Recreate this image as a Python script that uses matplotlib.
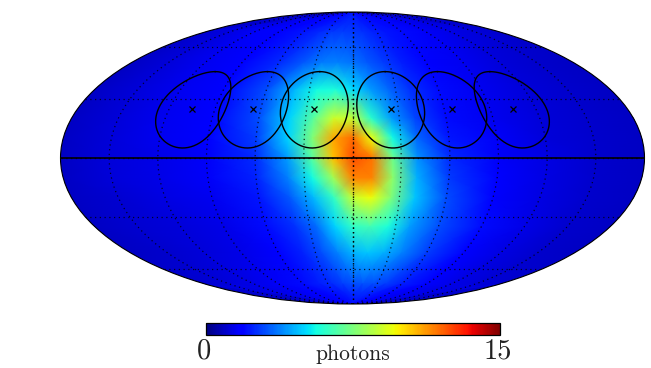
import numpy as np
import matplotlib
matplotlib.use('Agg')
import matplotlib.pyplot as plt
from matplotlib.transforms import ScaledTranslation

# sky map nodes (degrees), finer around the hot spot
lon_nodes = [-180, -150, -120, -90, -60, -40, -25, -12, 0, 12, 25, 40, 60, 90, 120, 150, 180]
lat_nodes = [90, 70, 50, 35, 20, 10, 0, -10, -20, -35, -50, -70, -90]

# photons per node
photons = [
    [1.9, 1.9, 1.9, 2.0, 2.0, 2.1, 2.1, 2.2, 2.2, 2.2, 2.1, 2.1, 2.0, 2.0, 1.9, 1.9, 1.9],
    [1.1, 1.3, 1.6, 1.8, 2.2, 2.5, 2.7, 2.8, 2.7, 2.6, 2.4, 2.2, 2.0, 1.6, 1.4, 1.2, 1.0],
    [0.9, 1.2, 1.5, 1.8, 2.5, 3.2, 3.7, 3.8, 3.6, 3.2, 2.8, 2.3, 1.9, 1.5, 1.2, 1.0, 0.9],
    [0.9, 1.2, 1.5, 1.9, 3.0, 4.6, 5.6, 5.8, 5.1, 4.2, 3.4, 2.6, 2.0, 1.5, 1.2, 1.0, 0.9],
    [0.9, 1.2, 1.5, 1.8, 3.0, 5.0, 6.9, 9.0, 8.8, 6.0, 4.2, 2.9, 2.0, 1.5, 1.2, 1.0, 0.9],
    [0.9, 1.2, 1.5, 1.7, 2.8, 5.0, 7.6, 11.0, 12.0, 9.5, 5.6, 3.4, 2.2, 1.6, 1.2, 1.0, 0.9],
    [0.9, 1.2, 1.4, 1.6, 2.5, 4.2, 6.8, 10.6, 12.4, 11.8, 7.2, 4.0, 2.5, 1.6, 1.3, 1.0, 0.9],
    [0.9, 1.2, 1.4, 1.6, 2.4, 3.8, 5.6, 8.2, 11.6, 11.6, 7.8, 4.5, 2.7, 1.7, 1.3, 1.0, 0.9],
    [0.9, 1.1, 1.3, 1.5, 2.2, 3.2, 4.6, 6.2, 8.8, 9.6, 7.5, 4.8, 3.0, 1.8, 1.3, 1.0, 0.9],
    [0.9, 1.1, 1.2, 1.4, 2.0, 2.6, 3.5, 5.0, 6.1, 6.5, 5.8, 4.2, 3.0, 2.0, 1.4, 1.0, 0.9],
    [0.9, 1.0, 1.2, 1.4, 1.8, 2.4, 3.0, 3.8, 4.5, 4.8, 4.5, 3.8, 2.8, 1.8, 1.3, 1.0, 0.9],
    [1.1, 1.2, 1.4, 1.6, 2.0, 2.3, 2.5, 2.8, 3.0, 3.1, 3.0, 2.8, 2.3, 1.8, 1.4, 1.2, 1.1],
    [1.9, 1.9, 1.9, 1.9, 1.9, 1.9, 1.9, 1.9, 1.9, 1.9, 1.9, 1.9, 1.9, 1.9, 1.9, 1.9, 1.9],
]

# pointing positions and ring radius (degrees)
ring_lons = [-105, -65, -25, 25, 65, 105]
ring_lats = [25, 25, 25, 25, 25, 25]
ring_radius = 20

cbar_ticks = [0, 15]
cbar_label = 'photons'


def small_circle(lon0, lat0, radius):
    # circle on the sphere around (lon0, lat0), returned in radians
    t = np.linspace(0, 2 * np.pi, 200)
    r = np.radians(radius)
    la0 = np.radians(lat0)
    lat = np.arcsin(np.sin(la0) * np.cos(r) + np.cos(la0) * np.sin(r) * np.cos(t))
    dlon = np.arctan2(np.sin(t) * np.sin(r) * np.cos(la0),
                      np.cos(r) - np.sin(la0) * np.sin(lat))
    return np.radians(lon0) + dlon, lat


W, H = 651, 368
fig = plt.figure(figsize=(W / 100, H / 100), dpi=100)
ax = fig.add_axes([60 / W, (H - 304) / H, 585 / W, 292 / H], projection='mollweide')
ax.set_facecolor(plt.cm.jet(1.0 / 15))

X, Y = np.meshgrid(np.radians(lon_nodes), np.radians(lat_nodes))
mesh = ax.pcolormesh(X, Y, np.array(photons), cmap='jet', vmin=0, vmax=15,
                     shading='gouraud', zorder=1)

# graticule
ax.set_longitude_grid(30)
ax.set_latitude_grid(30)
ax.set_longitude_grid_ends(90)
ax.grid(True, color='black', linestyle=(0, (1, 2.8)), linewidth=0.9, alpha=0.8, zorder=2)
ax.set_axisbelow(False)
ax.set_xticklabels([])
ax.set_yticklabels([])
ax.tick_params(length=0)
for s in ax.spines.values():
    s.set_linewidth(0.8)
    s.set_color('black')

# central meridian is crisper than the others
ax.plot([0, 0], np.radians([-90, 90]), color='black', linestyle=(0, (1, 2.2)), lw=1.0, zorder=3)
ax.plot(np.radians([-180, 180]), [0, 0], color='black', lw=1.2, zorder=3)

for lon, lat in zip(ring_lons, ring_lats):
    rx, ry = small_circle(lon, lat, ring_radius)
    ax.plot(rx, ry, color='black', lw=1.0, zorder=3)
ax.plot(np.radians(ring_lons), np.radians(ring_lats), linestyle='none', marker='x',
        color='black', ms=4.5, mew=0.9, zorder=4)

# colour bar
cax = fig.add_axes([206 / W, (H - 335) / H, 294 / W, 12 / H])
cbar = fig.colorbar(mesh, cax=cax, orientation='horizontal')
cbar.set_ticks(cbar_ticks)
cbar.set_ticklabels([str(v) for v in cbar_ticks], family='cmr10', fontsize=20.5, color='#222222')
cax.tick_params(length=0, pad=3)
cbar.outline.set_linewidth(0.9)
shift = ScaledTranslation(-1.5 / 72, 0.5 / 72, fig.dpi_scale_trans)
for lab in cax.get_xticklabels():
    lab.set_transform(lab.get_transform() + shift)
cax.set_xlabel(cbar_label, family='cmr10', fontsize=15.5, color='#222222', labelpad=-14.5)

fig.savefig('out.png', dpi=100)
